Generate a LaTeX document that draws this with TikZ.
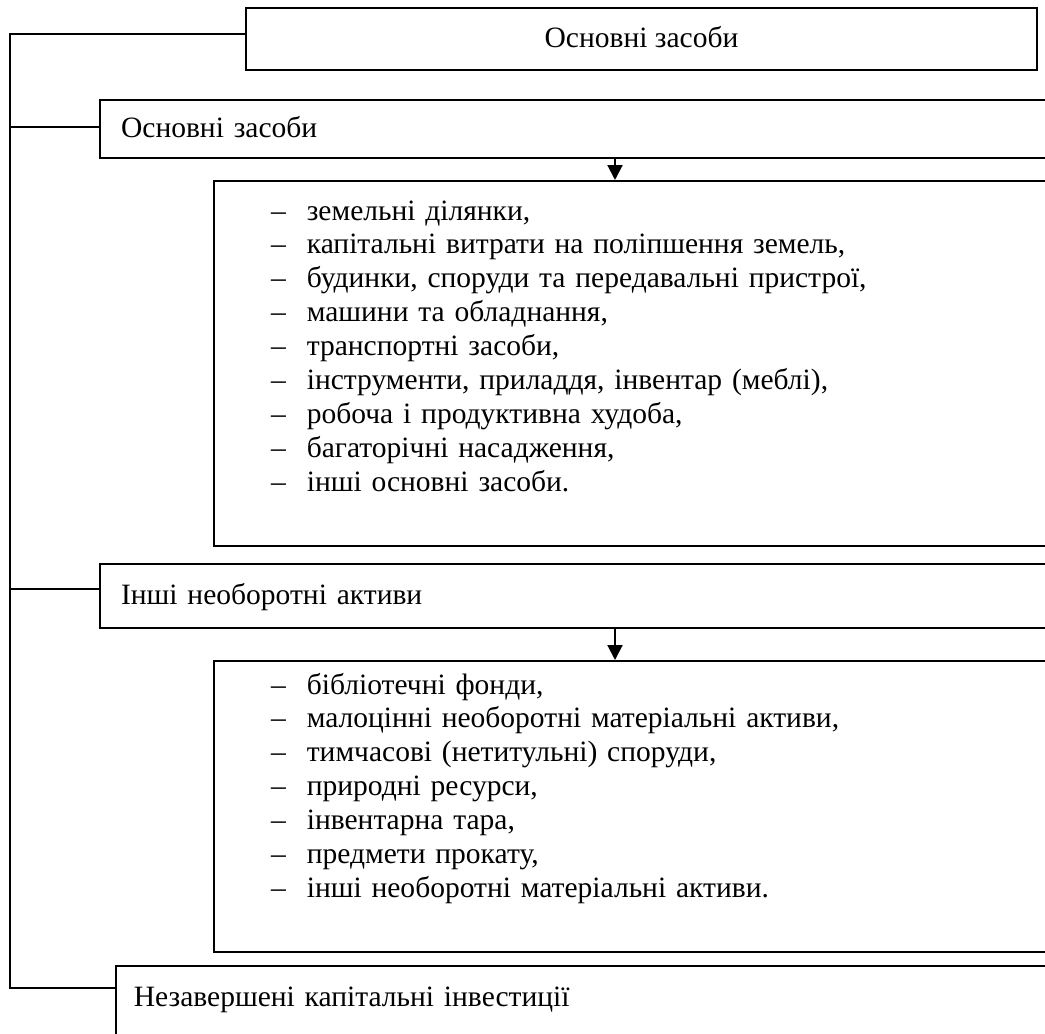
\documentclass[tikz,border=0pt]{standalone}
\usepackage{fontspec}
\setmainfont{Liberation Serif}
\usetikzlibrary{arrows.meta}
\newcommand\pxu{0.4743pt}
\newcommand\itm{\makebox[17pt][l]{–}}
\begin{document}
\begin{tikzpicture}[x=\pxu,y=-\pxu,
   font=\fontsize{14pt}{16.1pt}\selectfont,
   line width=0.95pt,
   box/.style={draw,rectangle,inner sep=0pt,text height=10pt,text depth=2pt},
   wide/.style={box,anchor=north west,align=left,text width=440pt,inner xsep=10pt},
   lst/.style={anchor=base west,align=left,text width=400pt,inner sep=0pt},
   arr/.style={-{Triangle[width=7pt,length=7pt]}}]
   \useasboundingbox (0,0) rectangle (1045,1034);
   \clip (0,0) rectangle (1045,1034);
   \node[box,anchor=north west,minimum width=375.2pt,minimum height=29.4pt] (top) at (245,7) {Основні засоби};
   \node[wide,minimum height=27.5pt] (os) at (99,99) {Основні засоби};
   \node[box,anchor=north west,minimum width=400pt,minimum height=173pt] (lst1) at (212.5,180) {};
   \node[lst] (lst1txt) at (270,220) {\itm земельні ділянки,\\
      \itm капітальні витрати на поліпшення земель,\\
      \itm будинки, споруди та передавальні пристрої,\\
      \itm машини та обладнання,\\
      \itm транспортні засоби,\\
      \itm інструменти, приладдя, інвентар (меблі),\\
      \itm робоча і продуктивна худоба,\\
      \itm багаторічні насадження,\\
      \itm інші основні засоби.};
   \node[wide,minimum height=30.4pt] (io) at (99,563) {Інші необоротні активи};
   \node[box,anchor=north west,minimum width=400pt,minimum height=138pt] (lst2) at (212.5,660) {};
   \node[lst] (lst2txt) at (270,694) {\itm бібліотечні фонди,\\
      \itm малоцінні необоротні матеріальні активи,\\
      \itm тимчасові (нетитульні) споруди,\\
      \itm природні ресурси,\\
      \itm інвентарна тара,\\
      \itm предмети прокату,\\
      \itm інші необоротні матеріальні активи.};
   \node[wide,inner xsep=8.5pt,inner ysep=9pt,text depth=40pt] (nz) at (115,965) {Незавершені капітальні інвестиції};
   \coordinate (sp) at (10,0);
   \coordinate (ax) at (615,0);
   \draw ([yshift=2.4pt]top.west) -| ([yshift=-10.9pt]nz.north west -| sp) -- ([yshift=-10.9pt]nz.north west);
   \draw ([yshift=1pt]os.west) -- ([yshift=1pt]os.west -| sp);
   \draw ([yshift=3.3pt]io.west) -- ([yshift=3.3pt]io.west -| sp);
   \draw[arr] (os.south -| ax) -- (lst1.north -| ax);
   \draw[arr] (io.south -| ax) -- (lst2.north -| ax);
\end{tikzpicture}
\end{document}
